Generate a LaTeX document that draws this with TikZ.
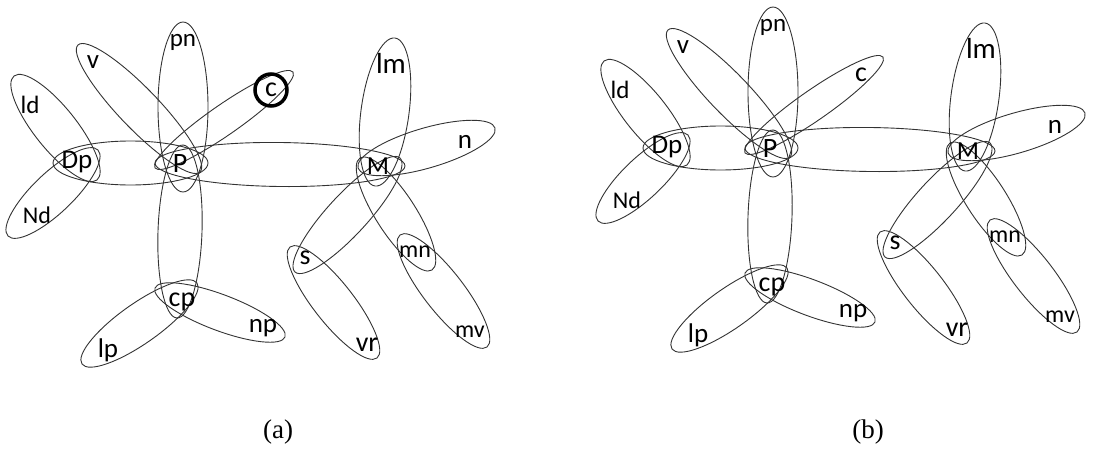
\documentclass[tikz,border=0pt]{standalone}
\usepackage{fontspec}
\setmainfont{Liberation Serif}
\newfontfamily\labelfont{Carlito}
\usetikzlibrary{calc,shapes.geometric}

\tikzset{
  hedgebox/.style={draw=black!80, ellipse, inner sep=0pt, line width=0.9pt},
  vlabel/.style={font=\labelfont\fontsize{#1}{#1}\selectfont, inner sep=0pt},
  vlabel/.default=27,
  caption/.style={font=\fontsize{27}{27}\selectfont, inner sep=0pt}
}
% hyperedge: name, tip, tip, width
\newcommand{\hedge}[4]{%
  \path let \p1=(#2), \p2=(#3), \n1={atan2(\y2-\y1,\x2-\x1)}, \n2={veclen(\x2-\x1,\y2-\y1)} in
    node[hedgebox, minimum width=\n2, minimum height=#4, rotate=\n1] (#1) at ($(#2)!0.5!(#3)$) {};}

\begin{document}
\begin{tikzpicture}[x=1pt,y=-1pt]
\useasboundingbox (0,0) rectangle (1102,452);
\foreach \sx/\sy/\pn in {0/0/a, 590/-15/b} {
\begin{scope}[shift={(\sx,\sy)}]
% hyperedges
\hedge{\pn-pnP}{183,22}{183,192}{50}
\hedge{\pn-vP}{78,45}{200,172}{40}
\hedge{\pn-cP}{155,168}{293,72}{30}
\hedge{\pn-ldDp}{14,76}{97,180}{42}
\hedge{\pn-NdDp}{8,236}{98,150}{40}
\hedge{\pn-DpP}{53,163}{208,163}{44}
\hedge{\pn-PM}{155,163}{405,166}{44}
\hedge{\pn-Pcp}{183,145}{177,318}{44}
\hedge{\pn-cplp}{82,364}{197,283}{40}
\hedge{\pn-cpnp}{155,288}{285,337}{36}
\hedge{\pn-lmM}{395,38}{375,186}{48}
\hedge{\pn-Mn}{358,168}{495,128}{40}
\hedge{\pn-Ms}{295,272}{400,158}{40}
\hedge{\pn-svr}{290,247}{377,358}{40}
\hedge{\pn-Mmn}{360,158}{432,270}{40}
\hedge{\pn-mnmv}{400,235}{487,347}{40}
% vertices
\node[vlabel=25] (\pn-pn) at (183,42) {pn};
\node[vlabel] (\pn-v) at (93,62) {v};
\node[vlabel=25] (\pn-ld) at (30,105) {ld};
\node[vlabel=28] (\pn-c) at (271,90) {c};
\node[vlabel] (\pn-Dp) at (77,162) {Dp};
\node[vlabel=24] (\pn-Nd) at (37,215) {Nd};
\node[vlabel=28] (\pn-P) at (180,164) {P};
\node[vlabel=29] (\pn-lm) at (391,63) {lm};
\node[vlabel=26] (\pn-M) at (378,166) {M};
\node[vlabel] (\pn-n) at (465,142) {n};
\node[vlabel=28] (\pn-s) at (305,258) {s};
\node[vlabel=24] (\pn-mn) at (415,252) {mn};
\node[vlabel=28] (\pn-vr) at (367,345) {vr};
\node[vlabel=24] (\pn-mv) at (470,332) {mv};
\node[vlabel=28] (\pn-cp) at (182,302) {cp};
\node[vlabel] (\pn-lp) at (108,350) {lp};
\node[vlabel] (\pn-np) at (263,328) {np};
\end{scope}
}
\draw[line width=3.5pt] (a-c) circle (16pt);
\node[caption] (cap-a) at (278,432) {(a)};
\node[caption] (cap-b) at (868,432) {(b)};
\end{tikzpicture}
\end{document}
